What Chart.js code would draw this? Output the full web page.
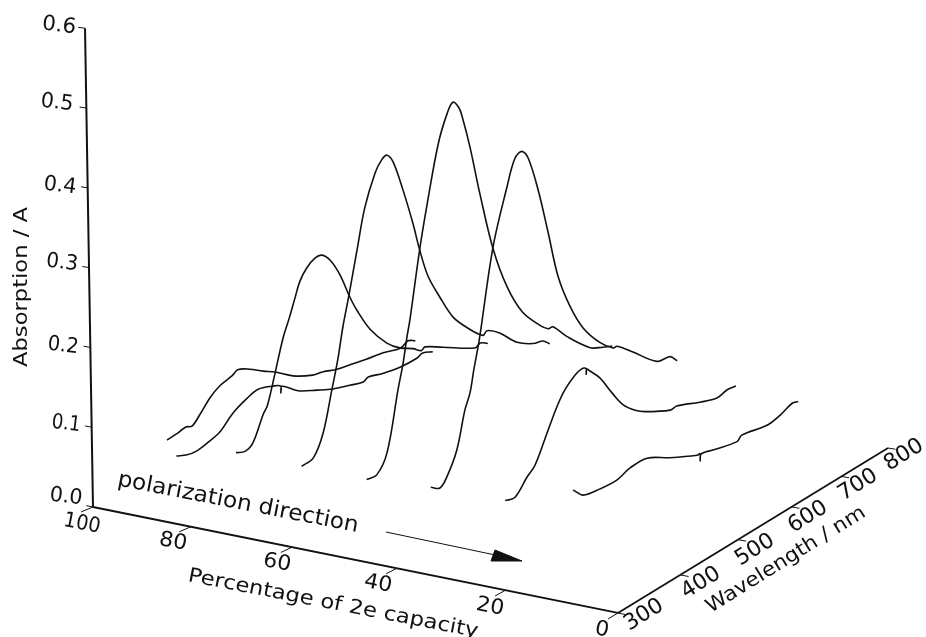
<!DOCTYPE html>
<html>
<head>
<meta charset="utf-8">
<title>Absorption waterfall</title>
<script src="https://cdn.jsdelivr.net/npm/chart.js@4"></script>
<style>
  html, body { margin: 0; background: #fff; }
  #wrap { width: 926px; height: 637px; }
</style>
</head>
<body>
<div id="wrap"><canvas id="canvas"></canvas></div>
<script>
// percentage of 2e capacity for each spectrum, back to front
var percents = [85, 83, 71, 58, 45, 33, 20, 8];

// wavelength (nm) and absorption (mA)
var wl85 = [303,316,328,336,347,361,374,391,400,416,435,452,478,507,523,544,569,591,617,645,658,670];
var ab85 = [100,103,107,105,116,132,142,149,154,149,140,133,119,110,109,105,104,103,103,100,106,102];
var wl83 = [302,316,329,344,360,378,398,414,434,446,446,448,471,499,523,549,570,578,601,629,657,667,684];
var ab83 = [83,79,79,84,91,108,120,126,123,119,110,118,104,95,88,84,81,85,82,81,84,88,84];
var wl71 = [302,314,325,339,345,355,368,377,386,393,403,415,425,437,451,465,475,495,520,540,561,574,580,609,663,672,685];
var ab71 = [101,98,105,134,143,175,219,241,265,283,297,306,307,297,274,241,221,189,163,150,142,135,138,128,109,113,108];
var wl58 = [301,317,331,344,353,361,370,383,395,411,421,429,438,452,466,476,488,506,526,548,574,581,602,631,659,676,688];
var ab58 = [100,104,129,177,211,249,284,338,387,427,441,445,434,395,349,311,274,241,209,188,169,173,163,141,130,128,120];
var wl45 = [297,311,326,343,351,357,362,378,390,408,422,431,440,445,456,470,490,511,535,564,578,586,610,650,673,690];
var ab45 = [101,101,122,192,222,251,272,354,406,476,510,522,513,500,460,398,320,266,226,199,190,190,169,141,134,130];
var wl33 = [297,310,320,335,348,356,362,371,394,417,430,441,451,466,481,496,515,536,564,587,594,622,665,690,703];
var ab33 = [106,100,109,135,179,197,222,256,362,430,462,468,457,413,355,295,251,217,189,174,174,157,130,128,118];
var wl20 = [302,316,335,347,366,382,395,411,422,429,429,430,435,451,471,489,509,526,570,582,624,656,676,693];
var ab20 = [104,102,119,128,159,185,201,213,217,215,208,214,210,196,170,149,135,127,113,114,104,98,102,101];
var wl8 = [304,319,345,372,393,421,459,506,511,511,513,534,578,587,635,661,685,697];
var ab8 = [130,118,115,115,121,122,108,93,93,84,92,89,83,88,83,87,94,92];

var wlSeries = [wl85, wl83, wl71, wl58, wl45, wl33, wl20, wl8];
var abSeries = [ab85, ab83, ab71, ab58, ab45, ab33, ab20, ab8];

// axis ticks
var absTicks = [0.0, 0.1, 0.2, 0.3, 0.4, 0.5, 0.6];
var pctTicks = [100, 80, 60, 40, 20, 0];
var wlTicks = [300, 400, 500, 600, 700, 800];

// the perspective of the drawing, fitted on the axis ticks
function project(p, wl, a) {
  var u = (100 - p) / 100, v = (wl - 300) / 500;
  var w = 1 - 0.084 * u + 0.184 * v;
  return {
    x: (473 * u + 410.8 * v + 93 - 13.3 * a) / w,
    y: (54.5 * u - 68.7 * v + 507 - 798 * a) / w
  };
}

var datasets = [];
function addLine(pts, width, extra) {
  var d = { data: pts, borderColor: '#111', backgroundColor: '#111', borderWidth: width,
            pointRadius: 0, showLine: true, tension: 0, spanGaps: false, fill: false };
  for (var k in extra) d[k] = extra[k];
  datasets.push(d);
}

for (var s = 0; s < percents.length; s++) {
  var pts = [];
  for (var i = 0; i < wlSeries[s].length; i++) {
    pts.push(project(percents[s], wlSeries[s][i], abSeries[s][i] / 1000));
  }
  addLine(pts, 1.6, { tension: 0.35 });
}

// three axes
addLine([project(100, 300, 0.6), project(100, 300, 0)], 2);
addLine([project(100, 300, 0), project(0, 300, 0)], 1.8);
addLine([project(0, 300, 0), project(0, 800, 0)], 1.8);

// tick marks, same directions as the other floor axis
var tickPts = [];
absTicks.forEach(function(a) {
  tickPts.push(project(100, 300, a), project(101.4, 300, a), { x: null, y: null });
});
pctTicks.forEach(function(p) {
  tickPts.push(project(p, 300, 0), project(p, 285, 0), { x: null, y: null });
});
wlTicks.forEach(function(w) {
  tickPts.push(project(0, w, 0), project(-1.5, w, 0), { x: null, y: null });
});
addLine(tickPts, 1);

// polarization arrow
var arrowShaftX = [386, 500], arrowShaftY = [532, 556];
var arrowHeadX = [495, 522, 491, 495], arrowHeadY = [550, 561, 561, 550];
addLine(arrowShaftX.map(function(x, i) { return { x: x, y: arrowShaftY[i] }; }), 1);
addLine(arrowHeadX.map(function(x, i) { return { x: x, y: arrowHeadY[i] }; }), 1, { fill: 'shape' });

// text on the page: [text, centre x, centre y, degrees, font px, width px]
var labels = [
  ['0.0', 66, 497, 7, 21, 33], ['0.1', 66, 424, 7, 21, 29], ['0.2', 63, 346, 7, 21, 31],
  ['0.3', 62, 263, 7, 21, 32], ['0.4', 60, 186, 7, 21, 33], ['0.5', 57, 103, 7, 21, 33],
  ['0.6', 59, 26, 7, 21, 34],
  ['100', 82, 524, 11, 21, 37], ['80', 173, 542, 11, 21, 28], ['60', 277, 563, 11, 21, 28],
  ['40', 378, 584, 11, 21, 28], ['20', 490, 607, 11, 21, 28], ['0', 602, 630, 11, 21, 14],
  ['300', 644, 615, -32, 22, 42], ['400', 701, 583, -32, 22, 42], ['500', 755, 550, -32, 22, 42],
  ['600', 808, 517, -32, 22, 42], ['700', 858, 485, -32, 22, 42], ['800', 904, 455, -32, 22, 42],
  ['Absorption / A', 22, 287, -90, 19, 160],
  ['Percentage of 2e capacity', 333, 604, 11, 20, 295],
  ['Wavelength / nm', 786, 560, -32, 20, 184],
  ['polarization direction', 238, 503, 11, 22, 245]
];

var textPlugin = {
  id: 'pageText',
  afterDatasetsDraw: function(chart) {
    var ctx = chart.ctx;
    ctx.save();
    ctx.fillStyle = '#111';
    ctx.textAlign = 'center';
    ctx.textBaseline = 'middle';
    labels.forEach(function(l) {
      ctx.save();
      ctx.font = l[4] + 'px "DejaVu Sans"';
      ctx.translate(chart.scales.x.getPixelForValue(l[1]), chart.scales.y.getPixelForValue(l[2]));
      ctx.rotate(l[3] * Math.PI / 180);
      ctx.scale(l[5] / ctx.measureText(l[0]).width, 1);
      ctx.fillText(l[0], 0, 0);
      ctx.restore();
    });
    ctx.restore();
  }
};

var canvas = document.getElementById('canvas');
var ctx = canvas.getContext('2d');
var config = {
  type: 'scatter',
  data: { datasets: datasets },
  options: {
    responsive: true,
    maintainAspectRatio: false,
    animation: false,
    layout: { padding: 0 },
    plugins: { legend: { display: false }, tooltip: { enabled: false } },
    scales: {
      x: { type: 'linear', min: 0, max: 926, display: false },
      y: { type: 'linear', min: 0, max: 637, reverse: true, display: false }
    }
  },
  plugins: [textPlugin]
};
var chart = new Chart(ctx, config);
</script>
</body>
</html>
